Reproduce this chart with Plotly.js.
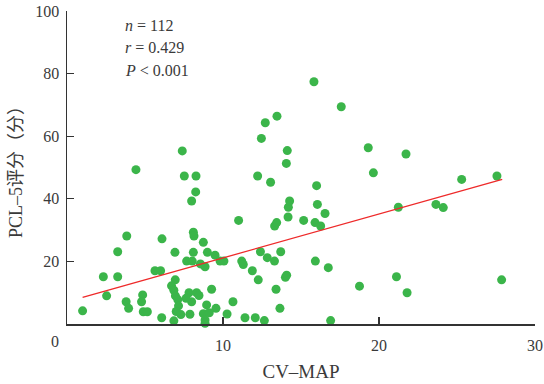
<!DOCTYPE html>
<html>
<head>
<meta charset="utf-8">
<script src="https://cdn.plot.ly/plotly-3.0.1.min.js"></script>
<style>html,body{margin:0;padding:0;background:#fff;}#chart{width:544px;height:384px;}</style>
</head>
<body>
<div id="chart"></div>
<script>
// CV-MAP values (x) and PCL-5 scores (y)
const cvMap = [
  1.0, 2.33, 2.54, 3.25, 3.25, 3.83, 3.79, 3.95, 4.42, 4.85, 4.78, 4.89, 5.15, 5.64, 6.0, 6.07, 6.09,
  6.92, 6.94, 6.70, 6.85, 6.95, 7.10, 7.15, 7.00, 7.30, 6.85,
  7.39, 7.52, 8.27, 8.25, 7.99, 8.1, 8.14, 8.74, 8.1, 7.67, 8.03, 8.55, 8.85, 7.82, 8.31, 8.46, 7.99, 7.63, 7.88,
  9.0, 9.49, 9.27, 8.95, 9.55, 8.74, 8.85, 8.85, 9.12,
  9.81, 10.06, 10.64, 10.26, 11.0, 11.2, 11.3, 11.41, 11.88,
  12.07, 12.26, 12.22, 12.4, 12.46, 12.65, 12.71, 12.84, 13.05, 13.3, 13.31, 13.44, 13.46, 13.4, 13.7, 13.65,
  14.0, 14.08, 14.06, 14.12, 14.17, 14.19, 14.27,
  15.17, 15.83, 15.9, 15.92, 16.0, 16.05, 16.26, 16.54, 16.75, 16.9, 17.58,
  18.75, 19.31, 19.64, 21.12, 21.24, 21.73, 21.8, 23.65, 24.12, 25.3, 27.56, 27.86
];
const pcl5 = [
  4.2, 15.1, 9.0, 23.1, 15.1, 28.1, 7.1, 5.0, 49.3, 9.3, 7.1, 3.9, 3.9, 17.0, 17.0, 2.0, 27.2,
  22.9, 14.1, 12.2, 10.8, 9.0, 7.8, 5.8, 4.0, 3.0, 1.0,
  55.3, 47.3, 47.3, 42.2, 39.3, 29.3, 28.1, 26.1, 22.9, 20.1, 20.1, 19.2, 18.3, 10.0, 10.0, 9.1, 7.1, 8.2, 3.1,
  22.9, 22.0, 11.1, 6.1, 5.0, 3.3, 1.3, 0.2, 3.6,
  20.1, 20.1, 7.1, 3.2, 33.1, 20.1, 19.0, 2.0, 17.0,
  2.0, 14.1, 47.3, 23.1, 59.3, 1.1, 64.3, 21.2, 45.3, 20.1, 31.3, 32.4, 66.4, 11.1, 23.1, 5.0,
  14.9, 15.6, 51.3, 55.4, 34.2, 37.3, 39.3,
  33.1, 77.4, 32.4, 20.1, 44.2, 38.2, 31.3, 35.3, 18.0, 1.1, 69.4,
  12.1, 56.3, 48.3, 15.1, 37.3, 54.3, 10.0, 38.2, 37.2, 46.2, 47.3, 14.1
];
// regression line end points
const fitX = [1.0, 27.9];
const fitY = [8.5, 46.2];

const xTicks = [10, 20, 30];
const yTicks = [20, 40, 60, 80, 100];
const statLines = ['<i>n</i> = 112', '<i>r</i> = 0.429', '<i>P</i> < 0.001'];

const FONT = 'Liberation Serif, "Times New Roman", "Noto Sans CJK SC", serif';
const TXT = '#3a3a3a';

const traces = [
  {x: cvMap, y: pcl5, type: 'scatter', mode: 'markers',
   marker: {color: '#3bb54a', size: 9}, hoverinfo: 'skip', cliponaxis: false},
  {x: fitX, y: fitY, type: 'scatter', mode: 'lines',
   line: {color: '#ee2a2a', width: 1.3}, hoverinfo: 'skip'}
];

const statY = [0.955, 0.882, 0.811];
const annotations = statLines.map((t, i) => ({
  text: t, xref: 'paper', yref: 'paper', x: 0.12, y: statY[i],
  xanchor: 'left', yanchor: 'middle', showarrow: false,
  font: {family: FONT, size: 16, color: TXT}
}));
annotations.push({text: '0', xref: 'paper', yref: 'paper', x: -0.026, y: -0.055,
  xanchor: 'center', yanchor: 'middle', showarrow: false,
  font: {family: FONT, size: 16, color: TXT}});

const layout = {
  width: 544, height: 384,
  margin: {l: 67, r: 9, t: 11, b: 60},
  paper_bgcolor: '#fff', plot_bgcolor: '#fff',
  showlegend: false,
  font: {family: FONT, color: TXT},
  xaxis: {
    range: [0, 30], tickvals: xTicks, ticktext: xTicks.map(String),
    showgrid: false, zeroline: false, showline: true, linecolor: '#333', linewidth: 1.5,
    ticks: 'inside', ticklen: 7, tickcolor: '#333', tickwidth: 1.2,
    tickfont: {family: FONT, size: 16, color: TXT}, ticklabelstandoff: 6,
    title: {text: 'CV–MAP', font: {family: FONT, size: 19, color: TXT}, standoff: 12}
  },
  yaxis: {
    range: [0, 100], tickvals: yTicks, ticktext: yTicks.map(String),
    showgrid: false, zeroline: false, showline: true, linecolor: '#333', linewidth: 1.5,
    ticks: 'inside', ticklen: 7, tickcolor: '#333', tickwidth: 1.2,
    tickfont: {family: FONT, size: 16, color: TXT}, ticklabelstandoff: 3,
    title: {text: 'PCL–5评分（分）', font: {family: FONT, size: 18, color: TXT}, standoff: 8}
  },
  annotations: annotations
};

Plotly.newPlot('chart', traces, layout, {staticPlot: true, displayModeBar: false});
</script>
</body>
</html>
